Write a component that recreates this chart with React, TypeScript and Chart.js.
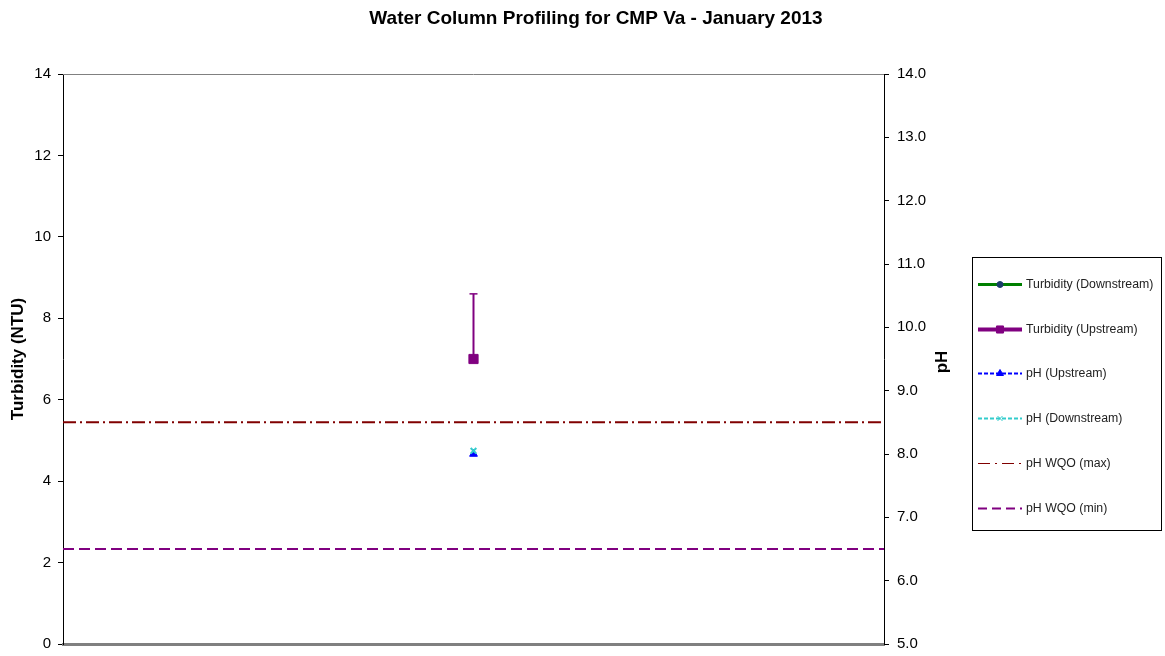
import React, { useEffect, useRef } from 'react';
import { Chart, registerables } from 'chart.js';
import { drawPoint } from 'chart.js/helpers';

Chart.register(...registerables);

// ---------- data ----------
const categories = ['', 'January 2013', ''];
const turbidityDownstream: (number | null)[] = [null, null, null];
const turbidityUpstream: (number | null)[] = [null, 7.0, null];
const turbidityUpstreamErrHigh: (number | null)[] = [null, 8.6, null];
const phUpstream: (number | null)[] = [null, 8.0, null];
const phDownstream: (number | null)[] = [null, 8.05, null];
const phWqoMax = [8.5, 8.5, 8.5];
const phWqoMin = [6.5, 6.5, 6.5];
const turbidityTicks = [0, 2, 4, 6, 8, 10, 12, 14];
const phTicks = [5, 6, 7, 8, 9, 10, 11, 12, 13, 14];
const seriesNames = [
  'Turbidity (Downstream)',
  'Turbidity (Upstream)',
  'pH (Upstream)',
  'pH (Downstream)',
  'pH WQO (max)',
  'pH WQO (min)',
];
const chartTitle = 'Water Column Profiling for CMP Va - January 2013';
const leftAxisTitle = 'Turbidity (NTU)';
const rightAxisTitle = 'pH';

const FONT = '"Liberation Sans", Arial, Helvetica, sans-serif';

// legend sample styles (marker size in legend)
const legendMarker = [
  { style: 'circle', r: 3, fill: '#1b3c6b', stroke: '#1b3c6b' },
  { style: 'rect', r: 5, fill: '#800080', stroke: '#800080' },
  { style: 'triangle', r: 4, fill: '#0000ff', stroke: '#0000ff' },
  { style: 'crossRot', r: 3.5, fill: '#33cccc', stroke: '#33cccc' },
  { style: false, r: 0, fill: '', stroke: '' },
  { style: false, r: 0, fill: '', stroke: '' },
];

const extrasPlugin = {
  id: 'extras',
  beforeDatasetsDraw(chart: any) {
    const { ctx } = chart;
    const xs = chart.scales.x;
    const ys = chart.scales.y;
    ctx.save();
    ctx.strokeStyle = '#800080';
    turbidityUpstream.forEach((v, i) => {
      const hi = turbidityUpstreamErrHigh[i];
      if (v == null || hi == null) return;
      const px = xs.getPixelForValue(i);
      const y0 = ys.getPixelForValue(v);
      const y1 = ys.getPixelForValue(hi);
      ctx.lineWidth = 2;
      ctx.beginPath();
      ctx.moveTo(px, y0);
      ctx.lineTo(px, y1);
      ctx.stroke();
      ctx.lineWidth = 1.5;
      ctx.beginPath();
      ctx.moveTo(px - 4, y1);
      ctx.lineTo(px + 4, y1);
      ctx.stroke();
    });
    ctx.restore();
  },
  afterDraw(chart: any) {
    const { ctx, chartArea } = chart;
    ctx.save();
    // top frame line
    ctx.strokeStyle = '#808080';
    ctx.lineWidth = 1;
    ctx.beginPath();
    ctx.moveTo(chartArea.left, chartArea.top + 0.5);
    ctx.lineTo(chartArea.right, chartArea.top + 0.5);
    ctx.stroke();

    // title
    ctx.fillStyle = '#000';
    ctx.font = `bold 19px ${FONT}`;
    ctx.textAlign = 'center';
    ctx.textBaseline = 'middle';
    ctx.fillText(chartTitle, 596, 19);

    // axis titles
    const midY = (chartArea.top + chartArea.bottom) / 2;
    ctx.font = `bold 17px ${FONT}`;
    ctx.save();
    ctx.translate(18, midY);
    ctx.rotate(-Math.PI / 2);
    ctx.fillText(leftAxisTitle, 0, 0);
    ctx.restore();
    ctx.save();
    ctx.translate(942, midY + 3);
    ctx.rotate(-Math.PI / 2);
    ctx.fillText(rightAxisTitle, 0, 0);
    ctx.restore();

    // legend
    const bx = 972, by = 257, bw = 189, bh = 273;
    ctx.fillStyle = '#fff';
    ctx.fillRect(bx, by, bw, bh);
    ctx.strokeStyle = '#000';
    ctx.lineWidth = 1;
    ctx.strokeRect(bx + 0.5, by + 0.5, bw, bh);
    const rowY0 = 284;
    const rowStep = 44.7;
    chart.data.datasets.forEach((ds: any, i: number) => {
      const y = Math.round(rowY0 + i * rowStep) + 0.5;
      ctx.save();
      ctx.strokeStyle = ds.borderColor;
      ctx.lineWidth = ds.legendLineWidth ?? ds.borderWidth;
      ctx.setLineDash(ds.legendDash ?? ds.borderDash ?? []);
      ctx.beginPath();
      ctx.moveTo(978, y);
      ctx.lineTo(1022, y);
      ctx.stroke();
      ctx.setLineDash([]);
      const m = legendMarker[i];
      if (m.style) {
        ctx.fillStyle = m.fill;
        ctx.strokeStyle = m.stroke;
        ctx.lineWidth = 1;
        drawPoint(ctx, { pointStyle: m.style as any, radius: m.r, rotation: 0, borderWidth: 1 }, 1000, y);
      }
      ctx.restore();
      ctx.fillStyle = '#222';
      ctx.font = `12.3px ${FONT}`;
      ctx.textAlign = 'left';
      ctx.textBaseline = 'middle';
      ctx.fillText(seriesNames[i], 1026, y);
    });
    ctx.restore();
  },
};

export default function App() {
  const ref = useRef<HTMLCanvasElement | null>(null);
  useEffect(() => {
    if (!ref.current) return;
    const chart = new Chart(ref.current, {
      type: 'line',
      data: {
        labels: categories,
        datasets: [
          {
            label: seriesNames[0],
            data: turbidityDownstream,
            yAxisID: 'y',
            borderColor: '#008000',
            backgroundColor: '#1b3c6b',
            borderWidth: 3,
            pointStyle: 'circle',
            pointRadius: 3,
            order: 1,
          } as any,
          {
            label: seriesNames[1],
            data: turbidityUpstream,
            yAxisID: 'y',
            borderColor: '#800080',
            backgroundColor: '#800080',
            borderWidth: 4,
            pointStyle: 'rect',
            pointRadius: 6.5,
            pointBorderWidth: 1,
            order: 1,
          },
          {
            label: seriesNames[2],
            data: phUpstream,
            yAxisID: 'y1',
            borderColor: '#0000ff',
            backgroundColor: '#0000ff',
            borderWidth: 2,
            borderDash: [4, 2],
            pointStyle: 'triangle',
            pointRadius: 4.5,
            pointBorderWidth: 1,
            order: 1,
          },
          {
            label: seriesNames[3],
            data: phDownstream,
            yAxisID: 'y1',
            borderColor: '#33cccc',
            backgroundColor: '#33cccc',
            borderWidth: 2,
            borderDash: [4, 2],
            pointStyle: 'crossRot',
            pointRadius: 4,
            pointBorderWidth: 2,
            order: 0,
          },
          {
            label: seriesNames[4],
            data: phWqoMax,
            yAxisID: 'y1',
            borderColor: '#800000',
            backgroundColor: '#800000',
            borderWidth: 2,
            borderDash: [13, 4, 2, 4],
            legendDash: [12, 5, 2, 5],
            legendLineWidth: 1,
            pointRadius: 0,
            order: 2,
          } as any,
          {
            label: seriesNames[5],
            data: phWqoMin,
            yAxisID: 'y1',
            borderColor: '#800080',
            backgroundColor: '#800080',
            borderWidth: 2,
            borderDash: [11, 5],
            legendDash: [9, 5],
            pointRadius: 0,
            order: 2,
          } as any,
        ],
      },
      options: {
        responsive: false,
        animation: false,
        devicePixelRatio: 1,
        font: { family: FONT },
        layout: { padding: { top: 74, bottom: 12, left: 0, right: 211 } },
        plugins: {
          legend: { display: false },
          title: { display: false },
          tooltip: { enabled: false },
        },
        scales: {
          x: {
            type: 'category',
            offset: false,
            ticks: { display: false },
            grid: { display: false },
            border: { display: true, color: '#808080', width: 3 },
            afterFit: (s: any) => {
              s.height = 0;
            },
          },
          y: {
            type: 'linear',
            position: 'left',
            min: 0,
            max: 14,
            afterBuildTicks: (s: any) => {
              s.ticks = turbidityTicks.map((v) => ({ value: v }));
            },
            afterFit: (s: any) => {
              s.width = 63;
              s.paddingTop = 0;
              s.paddingBottom = 0;
            },
            ticks: {
              color: '#000',
              font: { family: FONT, size: 15 },
              padding: 7,
              callback: (v: any) => String(v),
            },
            grid: { display: true, drawOnChartArea: false, drawTicks: true, tickLength: 5, color: '#000' },
            border: { display: true, color: '#000', width: 1 },
          },
          y1: {
            type: 'linear',
            position: 'right',
            min: 5,
            max: 14,
            afterBuildTicks: (s: any) => {
              s.ticks = phTicks.map((v) => ({ value: v }));
            },
            afterFit: (s: any) => {
              s.width = 70;
              s.paddingTop = 0;
              s.paddingBottom = 0;
            },
            ticks: {
              color: '#000',
              font: { family: FONT, size: 15 },
              padding: 8,
              callback: (v: any) => Number(v).toFixed(1),
            },
            grid: { display: true, drawOnChartArea: false, drawTicks: true, tickLength: 5, color: '#000' },
            border: { display: true, color: '#000', width: 1 },
          },
        },
      },
      plugins: [extrasPlugin],
    });
    return () => chart.destroy();
  }, []);
  return (
    <div style={{ position: 'fixed', left: 0, top: 0, width: 1165, height: 656, background: '#fff' }}>
      <canvas ref={ref} width={1165} height={656} style={{ display: 'block' }} />
    </div>
  );
}
